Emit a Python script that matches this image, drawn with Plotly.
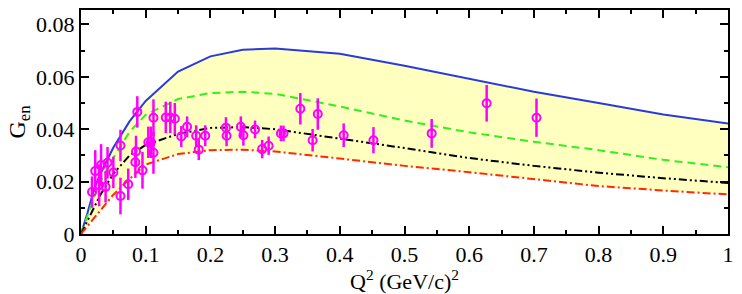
import plotly.graph_objects as go

# Theory curves
q2_curve = [0, 0.01, 0.02, 0.03, 0.05, 0.075, 0.1, 0.15, 0.2, 0.25, 0.3, 0.4, 0.5, 0.6, 0.7, 0.8, 0.9, 1.0]
g_blue = [0, 0.008, 0.017, 0.023, 0.033, 0.043, 0.0508, 0.062, 0.0678, 0.0703, 0.0708, 0.0688, 0.0642, 0.0593, 0.0543, 0.0500, 0.0456, 0.0422]
g_green = [0, 0.007, 0.014, 0.020, 0.029, 0.039, 0.0455, 0.0515, 0.0538, 0.0543, 0.0535, 0.0487, 0.0433, 0.0388, 0.0352, 0.0320, 0.0283, 0.0255]
g_black = [0, 0.005, 0.010, 0.015, 0.023, 0.030, 0.034, 0.0382, 0.0405, 0.0408, 0.0400, 0.0365, 0.0328, 0.0290, 0.0260, 0.0234, 0.0213, 0.0195]
g_red = [0, 0.003, 0.006, 0.009, 0.015, 0.021, 0.0265, 0.0305, 0.0320, 0.0322, 0.0315, 0.0288, 0.0260, 0.0236, 0.0210, 0.0183, 0.0166, 0.0151]

# Experimental data
q2_data = [0.017, 0.022, 0.028, 0.031, 0.038, 0.041, 0.050, 0.061, 0.061, 0.073, 0.084, 0.085, 0.087, 0.095,
           0.104, 0.108, 0.112, 0.112, 0.131, 0.138, 0.145, 0.155, 0.164, 0.178, 0.182, 0.192, 0.224, 0.225,
           0.247, 0.251, 0.269, 0.280, 0.290, 0.309, 0.313, 0.339, 0.358, 0.366, 0.406, 0.452, 0.542, 0.627, 0.704]
gen_data = [0.016, 0.024, 0.0186, 0.0263, 0.018, 0.0272, 0.0235, 0.0338, 0.0145, 0.019, 0.0274, 0.0315, 0.0466, 0.0243,
            0.035, 0.035, 0.0444, 0.031, 0.0445, 0.0445, 0.0440, 0.0372, 0.0409, 0.0375, 0.0322, 0.0375, 0.0406, 0.0375,
            0.0409, 0.0377, 0.0399, 0.0324, 0.0337, 0.0384, 0.0384, 0.0478, 0.0358, 0.0458, 0.0377, 0.0358, 0.0384, 0.0499, 0.0444]
gen_err = [0.006, 0.008, 0.008, 0.008, 0.006, 0.006, 0.006, 0.006, 0.007, 0.006, 0.006, 0.006, 0.006, 0.007,
           0.006, 0.006, 0.007, 0.008, 0.006, 0.006, 0.006, 0.004, 0.004, 0.004, 0.004, 0.004, 0.004, 0.004,
           0.004, 0.004, 0.0034, 0.0035, 0.0035, 0.003, 0.003, 0.006, 0.0043, 0.006, 0.0045, 0.005, 0.0055, 0.007, 0.0073]

x_ticks = [0, 0.1, 0.2, 0.3, 0.4, 0.5, 0.6, 0.7, 0.8, 0.9, 1]
x_ticklabels = ["0", "0.1", "0.2", "0.3", "0.4", "0.5", "0.6", "0.7", "0.8", "0.9", "1"]
y_ticks = [0, 0.02, 0.04, 0.06, 0.08]
y_ticklabels = ["0", "0.02", "0.04", "0.06", "0.08"]

SERIF = "Liberation Serif"

fig = go.Figure()
# band fill between red and blue
fig.add_trace(go.Scatter(x=q2_curve, y=g_red, mode="lines", line=dict(width=0), hoverinfo="skip", showlegend=False))
fig.add_trace(go.Scatter(x=q2_curve, y=g_blue, mode="lines", line=dict(width=0), fill="tonexty",
                         fillcolor="rgb(255,255,192)", hoverinfo="skip", showlegend=False))
fig.add_trace(go.Scatter(x=q2_curve, y=g_blue, mode="lines", line=dict(color="#2a3bd6", width=2), showlegend=False))
fig.add_trace(go.Scatter(x=q2_curve, y=g_green, mode="lines", line=dict(color="#33ee22", width=2, dash="8px,5px"), showlegend=False))
fig.add_trace(go.Scatter(x=q2_curve, y=g_black, mode="lines", line=dict(color="black", width=2, dash="8px,3px,2px,3px,2px,3px"), showlegend=False))
fig.add_trace(go.Scatter(x=q2_curve, y=g_red, mode="lines", line=dict(color="#ff2a00", width=2, dash="8px,3px,2px,3px"), showlegend=False))
fig.add_trace(go.Scatter(x=q2_data, y=gen_data, mode="markers",
                         marker=dict(symbol="circle-open", size=8, color="#ff00ff", line=dict(width=2, color="#ff00ff")),
                         error_y=dict(type="data", array=gen_err, color="#ff00ff", thickness=2.5, width=0),
                         showlegend=False))

tick_font = dict(family=SERIF, size=22, color="black")
fig.update_layout(
    width=742, height=294,
    margin=dict(l=81, r=8, t=10, b=60),
    paper_bgcolor="white", plot_bgcolor="white",
    font=dict(family=SERIF, size=22, color="black"),
    xaxis=dict(range=[0, 1], tickvals=x_ticks, ticktext=x_ticklabels, ticks="inside", ticklen=8, tickwidth=1.5,
               tickcolor="black", showline=True, linecolor="black", linewidth=2, mirror="ticks",
               showgrid=False, zeroline=False, tickfont=tick_font,
               minor=dict(dtick=0.05, ticks="inside", ticklen=4, tickwidth=1.5, tickcolor="black"),
               title=dict(text="Q<sup>2</sup> (GeV/c)<sup>2</sup>", font=dict(family=SERIF, size=22, color="black"), standoff=2)),
    yaxis=dict(range=[0, 0.0855], tickvals=y_ticks, ticktext=y_ticklabels, ticks="inside", ticklen=8, tickwidth=1.5,
               tickcolor="black", showline=True, linecolor="black", linewidth=2, mirror="ticks",
               showgrid=False, zeroline=False, tickfont=tick_font,
               minor=dict(dtick=0.01, ticks="inside", ticklen=4, tickwidth=1.5, tickcolor="black"),
               title=dict(text="G<sub>en</sub>", font=dict(family=SERIF, size=24, color="black"), standoff=4)),
)
fig.write_html("out.html")
